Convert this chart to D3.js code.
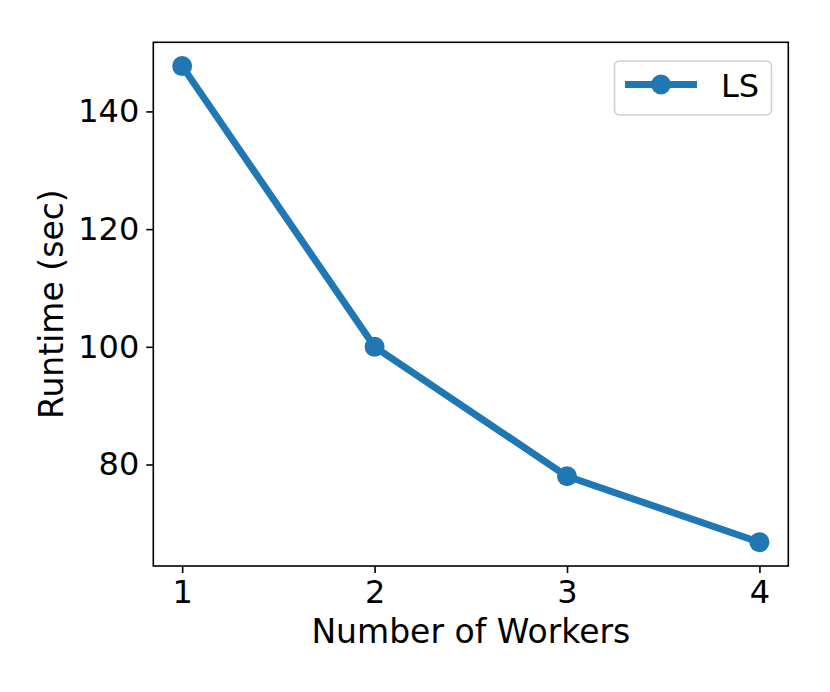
<!DOCTYPE html>
<html>
<head>
<meta charset="utf-8">
<script src="https://cdn.jsdelivr.net/npm/d3@7"></script>
<style>
  body { margin: 0; background: #fff; }
  text { font-family: "DejaVu Sans", sans-serif; fill: #000; }
</style>
</head>
<body>
<div id="chart"></div>
<script>
// data
var workers = [1, 2, 3, 4];
var runtime = [147.7, 100, 78, 66.8];
var xTicks = [1, 2, 3, 4];
var yTicks = [80, 100, 120, 140];
var seriesName = "LS";

var W = 830, H = 692;
var margin = { top: 42.3, right: 830 - 788.3, bottom: 692 - 566, left: 153.3 };
var width = W - margin.left - margin.right,
    height = H - margin.top - margin.bottom;
var color = "#1f77b4";
var fs = "33px";

var svg = d3.select("#chart").append("svg")
  .attr("width", W)
  .attr("height", H);

var g = svg.append("g")
  .attr("transform", "translate(" + margin.left + "," + margin.top + ")");

// matplotlib style 5% padding
var xPad = (d3.max(workers) - d3.min(workers)) * 0.05;
var yPad = (d3.max(runtime) - d3.min(runtime)) * 0.05;
var x = d3.scaleLinear()
  .domain([d3.min(workers) - xPad, d3.max(workers) + xPad])
  .range([0, width]);
var y = d3.scaleLinear()
  .domain([d3.min(runtime) - yPad, d3.max(runtime) + yPad])
  .range([height, 0]);

// axes
var xAxis = g.append("g")
  .attr("transform", "translate(0," + height + ")")
  .call(d3.axisBottom(x).tickValues(xTicks).tickFormat(d3.format("d")).tickSize(7).tickPadding(7));
var yAxis = g.append("g")
  .call(d3.axisLeft(y).tickValues(yTicks).tickFormat(d3.format("d")).tickSize(7).tickPadding(7));

[xAxis, yAxis].forEach(function (a) {
  a.select(".domain").remove();
  a.selectAll(".tick line").attr("stroke", "#000").attr("stroke-width", 1.6);
  a.selectAll(".tick text").style("font-size", "32px").style("font-family", "DejaVu Sans, sans-serif");
});

// frame
g.append("rect")
  .attr("x", 0).attr("y", 0)
  .attr("width", width).attr("height", height)
  .attr("fill", "none")
  .attr("stroke", "#000")
  .attr("stroke-width", 1.6);

// line
var line = d3.line()
  .x(function (d, i) { return x(workers[i]); })
  .y(function (d) { return y(d); });

g.append("path")
  .datum(runtime)
  .attr("d", line)
  .attr("fill", "none")
  .attr("stroke", color)
  .attr("stroke-width", 7)
  .attr("stroke-linejoin", "round");

g.selectAll(".dot")
  .data(runtime)
  .enter().append("circle")
  .attr("class", "dot")
  .attr("cx", function (d, i) { return x(workers[i]); })
  .attr("cy", function (d) { return y(d); })
  .attr("r", 10)
  .attr("fill", color);

// axis labels
svg.append("text")
  .attr("x", margin.left + width / 2)
  .attr("y", 643)
  .attr("text-anchor", "middle")
  .style("font-size", fs)
  .text("Number of Workers");

svg.append("text")
  .attr("transform", "translate(63," + (margin.top + height / 2) + ") rotate(-90)")
  .attr("text-anchor", "middle")
  .style("font-size", fs)
  .text("Runtime (sec)");

// legend
var legend = svg.append("g");
legend.append("rect")
  .attr("x", 614.5).attr("y", 61)
  .attr("width", 157).attr("height", 54)
  .attr("rx", 5)
  .attr("fill", "#fff")
  .attr("stroke", "#d0d0d0")
  .attr("stroke-width", 1.6);
legend.append("line")
  .attr("x1", 625).attr("x2", 697)
  .attr("y1", 84.5).attr("y2", 84.5)
  .attr("stroke", color)
  .attr("stroke-width", 7);
legend.append("circle")
  .attr("cx", 661).attr("cy", 84.5)
  .attr("r", 10)
  .attr("fill", color);
legend.append("text")
  .attr("x", 721)
  .attr("y", 96.5)
  .style("font-size", "32px")
  .text(seriesName);
</script>
</body>
</html>
